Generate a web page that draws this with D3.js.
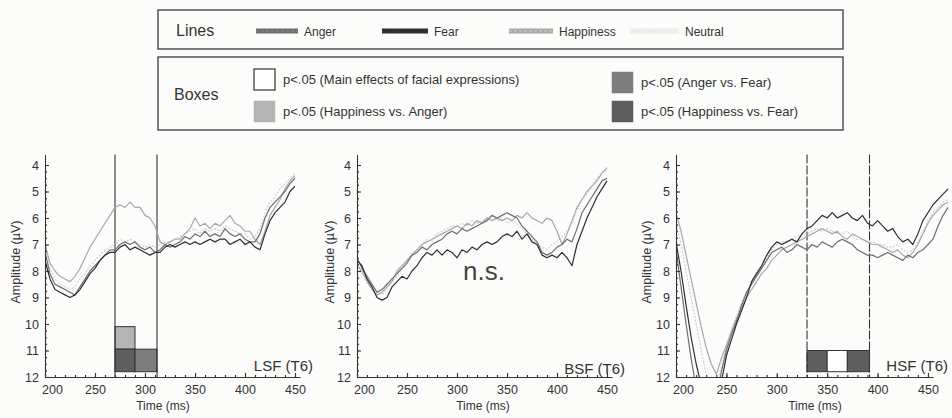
<!DOCTYPE html>
<html>
<head>
<meta charset="utf-8">
<script src="https://cdn.jsdelivr.net/npm/d3@7"></script>
<style>
  body { margin: 0; background: #fcfcfb; }
  svg { display: block; font-family: "Liberation Sans", Arial, sans-serif; }
</style>
</head>
<body>
<svg id="chart" width="952" height="418"></svg>
<script>
// sampling grid (ms)
const times = d3.range(200, 451, 5);
const timesHSF = d3.range(200, 471, 5);

// LSF (T6) amplitudes, µV
const lsfAnger = [7.3,8.1,8.5,8.6,8.7,8.8,8.9,8.6,8.3,8.0,7.8,7.6,7.4,7.2,7.2,7.0,6.9,7.0,6.9,7.1,7.2,7.1,7.3,7.2,7.0,7.1,7.0,6.9,6.7,6.8,6.6,6.7,6.5,6.7,6.6,6.7,6.4,6.6,6.7,6.6,6.8,6.9,6.9,6.6,6.0,5.6,5.4,5.2,5.0,4.7,4.5];
const lsfFear = [7.6,8.3,8.7,8.8,8.9,9.0,8.9,8.7,8.4,8.1,7.9,7.6,7.4,7.3,7.3,7.1,7.0,7.2,7.1,7.2,7.3,7.4,7.3,7.3,7.1,7.0,7.1,7.0,6.9,7.0,6.9,7.0,6.9,6.8,6.9,6.8,6.8,7.0,6.9,6.8,7.0,6.9,7.1,7.2,6.6,6.1,5.8,5.6,5.4,5.0,4.8];
const lsfHappiness = [7.0,7.7,8.0,8.2,8.3,8.4,8.2,7.9,7.5,7.1,6.8,6.5,6.2,5.9,5.6,5.5,5.6,5.4,5.6,5.6,5.9,6.0,6.3,6.9,7.0,6.9,6.8,6.8,6.6,6.4,6.0,6.3,6.2,6.4,6.2,6.3,6.1,5.9,6.2,6.3,6.5,6.5,6.8,7.0,6.5,5.9,5.6,5.3,4.9,4.6,4.4];
const lsfNeutral = [7.2,7.9,8.3,8.5,8.6,8.7,8.6,8.3,8.1,7.8,7.6,7.4,7.2,7.1,7.0,6.8,6.9,6.8,6.9,7.0,7.1,7.0,7.1,7.0,6.9,6.9,6.8,6.7,6.6,6.5,6.4,6.6,6.4,6.5,6.4,6.5,6.3,6.4,6.5,6.6,6.6,6.8,6.7,6.4,5.8,5.4,5.2,4.9,4.7,4.5,4.3];

// BSF (T6)
const bsfAnger = [7.5,7.9,8.2,8.5,8.8,8.7,8.5,8.3,8.1,7.9,7.7,7.4,7.3,7.1,7.2,7.0,6.9,6.8,6.6,6.5,6.6,6.4,6.5,6.4,6.3,6.2,6.1,5.9,6.0,5.9,5.8,5.9,6.0,6.3,6.5,6.7,6.9,7.3,7.4,7.3,7.1,7.0,6.8,6.9,6.4,5.8,5.5,5.2,4.9,4.6,4.5];
const bsfFear = [7.6,7.8,8.3,8.6,9.0,9.1,9.0,8.6,8.4,8.2,8.3,8.0,7.8,7.5,7.3,7.4,7.2,7.4,7.2,7.3,7.5,7.2,7.3,7.1,7.2,7.0,6.9,7.0,6.9,6.7,6.6,6.7,6.5,6.8,6.6,6.9,7.0,7.4,7.5,7.4,7.5,7.3,7.5,7.8,7.0,6.5,6.0,5.6,5.2,4.9,4.6];
const bsfHappiness = [7.8,8.0,8.4,8.7,8.9,8.8,8.6,8.4,8.0,7.8,7.6,7.4,7.2,7.0,6.9,6.8,6.7,6.6,6.5,6.4,6.3,6.4,6.2,6.3,6.1,6.2,6.0,6.1,6.0,6.1,6.0,6.1,5.9,6.0,5.8,6.0,6.1,6.2,6.0,6.1,6.5,7.0,6.6,6.1,5.6,5.3,5.0,4.8,4.6,4.3,4.1];
const bsfNeutral = [7.7,8.1,8.3,8.6,8.8,8.9,8.7,8.4,8.2,7.9,7.6,7.3,7.2,7.0,6.8,6.9,6.6,6.5,6.4,6.3,6.3,6.2,6.3,6.1,6.2,6.1,6.0,5.9,6.1,6.0,6.2,6.1,6.2,6.4,6.6,6.8,7.0,7.1,7.2,7.0,6.9,6.7,6.5,6.2,5.7,5.3,5.1,4.8,4.5,4.3,4.2];

// HSF (T6)
const hsfAnger = [7.2,8.6,10.0,11.3,12.4,13.5,14.0,13.6,12.8,11.8,11.0,10.4,9.9,9.3,8.8,8.5,8.2,7.9,7.6,7.3,7.2,7.1,7.3,7.2,7.0,7.1,7.2,7.0,7.1,6.9,7.0,7.1,6.9,6.8,6.9,7.0,7.2,7.3,7.4,7.4,7.5,7.4,7.3,7.4,7.5,7.6,7.4,7.5,7.3,7.2,7.0,6.8,6.3,5.9,5.6];
const hsfFear = [6.9,8.0,9.3,10.5,11.5,12.3,13.5,14.0,13.5,12.2,11.2,10.6,10.0,9.5,9.0,8.4,8.1,7.8,7.4,7.1,6.9,7.0,6.9,6.8,6.9,6.6,6.4,6.3,6.1,5.9,6.0,5.8,6.0,5.9,5.8,6.0,6.1,5.9,6.2,6.3,6.1,6.3,6.5,6.4,6.7,6.9,6.8,7.0,6.6,6.1,5.8,5.5,5.3,5.1,4.9];
const hsfHappiness = [5.8,6.5,7.4,8.3,9.2,10.1,10.9,11.5,11.9,11.3,10.8,10.3,9.8,9.4,9.0,8.7,8.4,8.1,7.9,7.6,7.4,7.2,7.1,7.0,6.9,6.8,6.7,6.6,6.5,6.4,6.5,6.6,6.5,6.7,6.8,6.6,6.7,6.8,6.9,7.0,7.0,7.1,7.2,7.3,7.2,7.4,7.5,7.3,7.0,6.6,6.2,5.9,5.7,5.5,5.4];
const hsfNeutral = [6.2,7.0,8.0,9.0,10.0,11.0,11.9,12.6,12.3,11.6,10.9,10.2,9.7,9.2,8.8,8.4,8.0,7.8,7.5,7.2,7.0,6.9,6.9,6.8,6.7,6.6,6.6,6.5,6.4,6.5,6.4,6.5,6.6,6.6,6.5,6.7,6.8,6.8,6.9,6.9,7.0,7.0,7.1,7.1,7.0,7.2,7.3,7.2,6.9,6.5,6.1,5.8,5.6,5.4,5.3];

// significance boxes: [t0, t1, v0, v1, type]
const lsfBoxes = [[270,290,10.1,10.95,"HA"],[270,290,10.95,11.8,"HF"],[290,312,10.95,11.8,"AF"]];
const hsfBoxes = [[330,350,11.0,11.8,"HF"],[350,370,11.0,11.8,"main"],[370,392,11.0,11.8,"HF"]];
const lsfMarkers = [270, 312];
const hsfMarkers = [330, 392];

const xTicks = [200,250,300,350,400,450];
const yTicks = [4,5,6,7,8,9,10,11,12];

const lineLabels = ["Anger","Fear","Happiness","Neutral"];
const boxLabels = [
  ["main","p<.05 (Main effects of facial expressions)"],
  ["HA","p<.05 (Happiness vs. Anger)"],
  ["AF","p<.05 (Anger vs. Fear)"],
  ["HF","p<.05 (Happiness vs. Fear)"]
];

// styles
const lineStyle = {
  Anger:     {stroke:"#6e6e6e", dash:null},
  Fear:      {stroke:"#2e2e2e", dash:null},
  Happiness: {stroke:"#a8a8a8", dash:null},
  Neutral:   {stroke:"#cfcfcf", dash:"2,1.5"}
};
const boxFill = {main:"#ffffff", HA:"#b4b4b4", AF:"#7d7d7d", HF:"#5e5e5e"};

const svg = d3.select("#chart");
const font = "'Liberation Sans', Arial, sans-serif";

// ---------- legend ----------
const lg = svg.append("g").attr("fill", "#333");
lg.append("rect").attr("x",158).attr("y",10).attr("width",685).attr("height",39)
  .attr("fill","none").attr("stroke","#3a3a3a").attr("stroke-width",1.3);
lg.append("rect").attr("x",158).attr("y",57).attr("width",685).attr("height",73)
  .attr("fill","none").attr("stroke","#3a3a3a").attr("stroke-width",1.3);
lg.append("text").attr("x",176).attr("y",36).attr("font-size",16).text("Lines");
lg.append("text").attr("x",174).attr("y",100).attr("font-size",16).text("Boxes");

const swatchX = [256, 382, 509, 630];
const swatchW = [42, 46, 44, 49];
lineLabels.forEach((name, i) => {
  const st = lineStyle[name];
  lg.append("rect").attr("x",swatchX[i]).attr("y",28.5).attr("width",swatchW[i]).attr("height",5)
    .attr("fill", name === "Neutral" ? "#e6e6e6" : st.stroke)
    .attr("opacity", name === "Neutral" ? 0.8 : 1);
  lg.append("line").attr("x1",swatchX[i]).attr("x2",swatchX[i]+swatchW[i]).attr("y1",31).attr("y2",31)
    .attr("stroke", name === "Neutral" ? "#f4f4f4" : d3.color(st.stroke).brighter(0.6))
    .attr("stroke-width",1).attr("stroke-dasharray","3,2");
  lg.append("text").attr("x",swatchX[i]+swatchW[i]+6).attr("y",35.5)
    .attr("font-size",12).text(name);
});

const boxPos = [[254,69],[254,101],[612,72],[612,101]];
boxLabels.forEach(([key, label], i) => {
  const [bx, by] = boxPos[i];
  lg.append("rect").attr("x",bx).attr("y",by).attr("width",21).attr("height",21)
    .attr("fill", boxFill[key]).attr("stroke", key === "main" ? "#333" : boxFill[key])
    .attr("stroke-width", key === "main" ? 1.2 : 0.5);
  lg.append("text").attr("x",bx+29).attr("y",by+15).attr("font-size",13).text(label);
});

// ---------- panels ----------
const panels = [
  {label:"LSF (T6)", t:times, values:{Anger:lsfAnger,Fear:lsfFear,Happiness:lsfHappiness,Neutral:lsfNeutral},
   boxes:lsfBoxes, markers:lsfMarkers, dashed:false, x0:45, x1:300, yLab:16, lab:[313,371], timeX:163},
  {label:"BSF (T6)", t:times, values:{Anger:bsfAnger,Fear:bsfFear,Happiness:bsfHappiness,Neutral:bsfNeutral},
   boxes:[], markers:[], dashed:false, x0:357, x1:612, yLab:330, lab:[625,374], timeX:483, ns:true},
  {label:"HSF (T6)", t:timesHSF, values:{Anger:hsfAnger,Fear:hsfFear,Happiness:hsfHappiness,Neutral:hsfNeutral},
   boxes:hsfBoxes, markers:hsfMarkers, dashed:true, x0:676, x1:933, yLab:647, lab:[948,371], timeX:815}
];

const y = d3.scaleLinear().domain([3.6, 12]).range([154.4, 377]);

panels.forEach((p, pi) => {
  const g = svg.append("g");
  const x = d3.scaleLinear().domain([200, 455]).range([p.x0, p.x1]);

  const clipId = "clip" + pi;
  svg.append("clipPath").attr("id", clipId)
    .append("rect").attr("x", p.x0).attr("y", 140).attr("width", 300).attr("height", 377 - 140);

  // significance boxes
  g.selectAll("rect.sig").data(p.boxes).join("rect").attr("class","sig")
    .attr("x", d => x(d[0])).attr("width", d => x(d[1]) - x(d[0]))
    .attr("y", d => y(d[2])).attr("height", d => y(d[3]) - y(d[2]))
    .attr("fill", d => boxFill[d[4]]).attr("stroke", "#333").attr("stroke-width", 1);

  // window markers
  g.selectAll("line.mark").data(p.markers).join("line").attr("class","mark")
    .attr("x1", d => x(d)).attr("x2", d => x(d))
    .attr("y1", y(3.6)).attr("y2", y(12))
    .attr("stroke", "#333").attr("stroke-width", 1.1)
    .attr("stroke-dasharray", p.dashed ? "9,2" : null);

  // waveforms
  const line = d3.line().x(d => x(d[0])).y(d => y(d[1]));
  ["Neutral","Happiness","Anger","Fear"].forEach(name => {
    const vals = p.values[name];
    const pts = p.t.slice(0, vals.length).map((t, i) => [t, vals[i]]);
    g.append("path").datum(pts)
      .attr("clip-path", `url(#${clipId})`)
      .attr("d", line).attr("fill","none")
      .attr("stroke", lineStyle[name].stroke)
      .attr("stroke-width", 1.2)
      .attr("stroke-dasharray", lineStyle[name].dash)
      .attr("stroke-linejoin","round");
  });

  // axes
  const xMinor = g.append("g").attr("transform", `translate(0,${y(12)})`)
    .call(d3.axisBottom(x).tickValues(d3.range(200, 451, 10)).tickSize(-2).tickFormat(""));
  xMinor.select(".domain").remove();
  const xAxis = g.append("g").attr("transform", `translate(0,${y(12)})`)
    .call(d3.axisBottom(x).tickValues(xTicks).tickSizeInner(-4).tickSizeOuter(0).tickPadding(8));
  xAxis.selectAll("text").filter(d => d === 200).attr("dx", 7);

  const yMinor = g.append("g").attr("transform", `translate(${p.x0},0)`)
    .call(d3.axisLeft(y).tickValues(d3.range(4, 12.01, 0.25)).tickSize(-2).tickFormat(""));
  yMinor.select(".domain").remove();
  const yAxis = g.append("g").attr("transform", `translate(${p.x0},0)`)
    .call(d3.axisLeft(y).tickValues(yTicks).tickSizeInner(-4).tickSizeOuter(0).tickPadding(6));

  [xAxis, yAxis, xMinor, yMinor].forEach(a => {
    a.selectAll("path,line").attr("stroke", "#333").attr("stroke-width", 1.1);
    a.selectAll("text").attr("font-family", font).attr("font-size", 12.5).attr("fill", "#333");
  });

  // titles
  g.append("text").attr("x", p.timeX).attr("y", 410).attr("text-anchor","middle")
    .attr("font-size", 12).attr("fill", "#333").text("Time (ms)");
  g.append("text").attr("transform", `translate(${p.yLab},262) rotate(-90)`)
    .attr("text-anchor","middle").attr("dy","0.35em")
    .attr("font-size", 12.5).attr("fill", "#333").text("Amplitude (\u00b5V)");
  g.append("text").attr("x", p.lab[0]).attr("y", p.lab[1]).attr("text-anchor","end")
    .attr("font-size", 15).attr("fill", "#333").text(p.label);
  if (p.ns) {
    g.append("text").attr("x", x(306)).attr("y", 280)
      .attr("font-size", 26).attr("fill", "#444").text("n.s.");
  }
});
</script>
</body>
</html>
